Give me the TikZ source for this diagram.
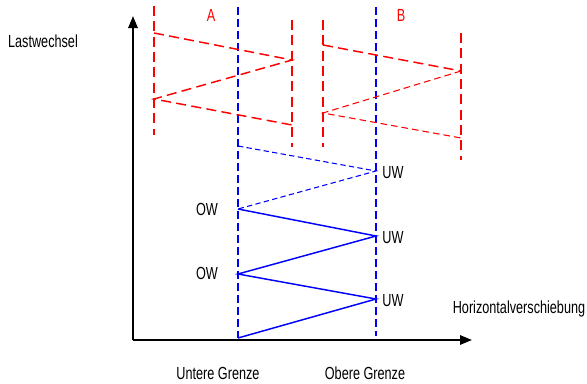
\documentclass[tikz,border=0pt]{standalone}
\usepackage{fontspec}
\setmainfont{Liberation Sans}
\usetikzlibrary{arrows.meta}
\begin{document}
\begin{tikzpicture}[x=0.75pt,y=-0.75pt,
  lbl/.style={inner sep=0pt,font=\fontsize{9.5}{11}\selectfont,yscale=1.38},
  axis/.style={line width=1.5pt,-{Triangle[length=9pt,width=7pt]}},
  bluedash/.style={blue,line width=1.1pt,dash pattern=on 6pt off 3pt},
  bluethin/.style={blue,line width=0.8pt,dash pattern=on 4pt off 2.5pt},
  bluesolid/.style={blue,line width=1.1pt},
  redthick/.style={red,line width=1.1pt,dash pattern=on 7.5pt off 4pt},
  redthin/.style={red,line width=0.8pt,dash pattern=on 5pt off 3pt}]
\useasboundingbox (0,0) rectangle (587,383);
% axes
\coordinate (O) at (133,340);
\coordinate (ytip) at (133,16);
\coordinate (xtip) at (472,340);
\draw[axis] (O) -- (ytip);
\draw[axis] (O) -- (xtip);
% blue limits
\coordinate (u1) at (238,7); \coordinate (u2) at (238,338);
\coordinate (o1) at (376,7); \coordinate (o2) at (376,336);
\draw[bluedash] (u1) -- (u2);
\draw[bluedash] (o1) -- (o2);
% blue zigzag
\coordinate (z0) at (238,146);
\coordinate (z1) at (376,171);
\coordinate (z2) at (238,209);
\coordinate (z3) at (376,236);
\coordinate (z4) at (238,274);
\coordinate (z5) at (376,299);
\coordinate (z6) at (238,338);
\draw[bluethin] (z0) -- (z1) -- (z2);
\draw[bluesolid] (z2) -- (z3) -- (z4) -- (z5) -- (z6);
% red A
\coordinate (a1) at (154,6); \coordinate (a2) at (154,135);
\coordinate (a3) at (292,20); \coordinate (a4) at (292,147);
\draw[redthick] (a1) -- (a2);
\draw[redthick] (a3) -- (a4);
\coordinate (ap0) at (154,33); \coordinate (ap1) at (292,60);
\coordinate (ap2) at (154,99); \coordinate (ap3) at (292,125);
\draw[redthick] (ap0) -- (ap1) -- (ap2) -- (ap3);
% red B
\coordinate (b1) at (323,20); \coordinate (b2) at (323,147);
\coordinate (b3) at (461,33); \coordinate (b4) at (461,160);
\draw[redthick] (b1) -- (b2);
\draw[redthick] (b3) -- (b4);
\coordinate (bp0) at (323,45); \coordinate (bp1) at (461,71);
\coordinate (bp2) at (323,113); \coordinate (bp3) at (461,138);
\draw[redthick] (bp0) -- (bp1);
\draw[redthin] (bp1) -- (bp2) -- (bp3);
% labels
\node[lbl,text=red] (A) at (211,15) {A};
\node[lbl,text=red] (B) at (401,15) {B};
\node[lbl] (last) at (43,41) {Lastwechsel};
\node[lbl] (hor) at (519,309) {Horizontalverschiebung};
\node[lbl] (ug) at (218,373) {Untere Grenze};
\node[lbl] (og) at (365,373) {Obere Grenze};
\node[lbl] (ow1) at (207,209) {OW};
\node[lbl] (ow2) at (207,273) {OW};
\node[lbl] (uw1) at (393,173) {UW};
\node[lbl] (uw2) at (393,238) {UW};
\node[lbl] (uw3) at (393,301) {UW};
\end{tikzpicture}
\end{document}
